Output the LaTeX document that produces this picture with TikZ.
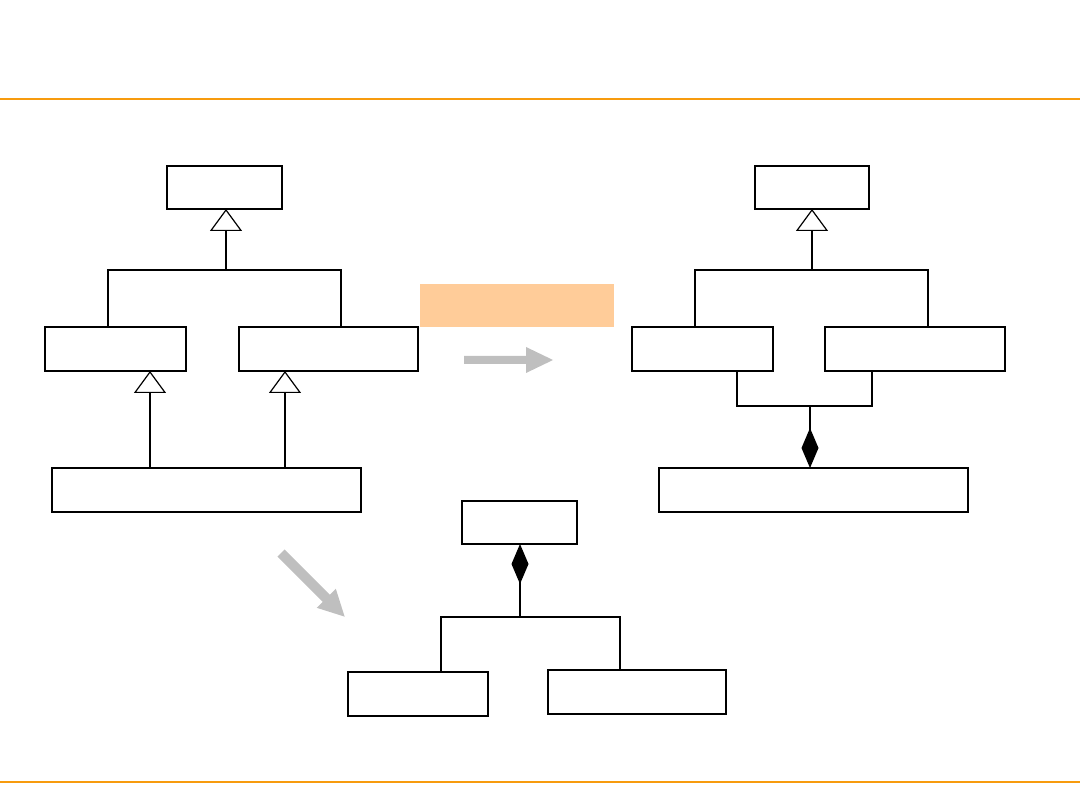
\documentclass[tikz,border=0pt]{standalone}
\usetikzlibrary{arrows.meta}
\definecolor{orng}{RGB}{247,155,14}
\definecolor{peach}{RGB}{255,204,153}
\definecolor{arrowgray}{RGB}{191,191,191}
\begin{document}
\begin{tikzpicture}[x=1pt,y=-1pt,
  box/.style={draw, line width=1.7pt, inner sep=0pt, outer sep=0pt, anchor=north west},
  conn/.style={line width=1.7pt},
  thinconn/.style={line width=1.2pt},
  gen/.style={line width=2pt, -{Triangle[open, length=22pt, width=32pt, line width=1.2pt]}},
  comp/.style={line width=1.2pt, -{Diamond[length=40pt, width=17pt]}},
  bigarrow/.style={fill=arrowgray}]
\useasboundingbox (0,0) rectangle (1080,810);
% orange rules
\draw[orng, line width=2pt] (0,99) -- (1080,99);
\draw[orng, line width=2pt] (0,782) -- (1080,782);
% peach banner
\fill[peach] (420,284) rectangle (614,327);

% ---------- left diagram ----------
\node[box, minimum width=115pt, minimum height=43pt] (A) at (167,166) {};
\node[box, minimum width=141pt, minimum height=44pt] (B) at (45,327) {};
\node[box, minimum width=179pt, minimum height=44pt] (C) at (239,327) {};
\node[box, minimum width=309pt, minimum height=44pt] (D) at (52,468) {};
\coordinate (h1) at (108,270);
\coordinate (h2) at (341,270);
\coordinate (a0) at (226,270);
\coordinate (d1) at (150,0);
\coordinate (d2) at (285,0);
\draw[gen] (a0) -- (a0 |- A.south);
\draw[conn] (h1 |- B.north) -- (h1) -- (h2) -- (h2 |- C.north);
\draw[gen] (d1 |- D.north) -- (d1 |- B.south);
\draw[gen] (d2 |- D.north) -- (d2 |- C.south);

% ---------- right diagram ----------
\node[box, minimum width=114pt, minimum height=43pt] (E) at (755,166) {};
\node[box, minimum width=141pt, minimum height=44pt] (F) at (632,327) {};
\node[box, minimum width=180pt, minimum height=44pt] (G) at (825,327) {};
\node[box, minimum width=309pt, minimum height=44pt] (K) at (659,468) {};
\coordinate (r1) at (695,270);
\coordinate (r2) at (928,270);
\coordinate (e0) at (812,270);
\coordinate (s1) at (737,406);
\coordinate (s2) at (872,406);
\coordinate (s0) at (810,406);
\draw[gen] (e0) -- (e0 |- E.south);
\draw[conn] (r1 |- F.north) -- (r1) -- (r2) -- (r2 |- G.north);
\draw[thinconn] (s1 |- F.south) -- (s1) -- (s2) -- (s2 |- G.south);
\draw[comp] (s0) -- (s0 |- K.north);

% ---------- bottom diagram ----------
\node[box, minimum width=115pt, minimum height=43pt] (H) at (462,501) {};
\node[box, minimum width=140pt, minimum height=44pt] (I) at (348,672) {};
\node[box, minimum width=178pt, minimum height=44pt] (J) at (548,670) {};
\coordinate (t0) at (520,617);
\coordinate (t1) at (441,617);
\coordinate (t2) at (620,617);
\draw[comp] (t0) -- (t0 |- H.south);
\draw[thinconn] (t1 |- I.north) -- (t1) -- (t2) -- (t2 |- J.north);

% ---------- gray arrows ----------
\fill[bigarrow] (464,356) -- (526,356) -- (526,347) -- (553,360) -- (526,373) -- (526,364) -- (464,364) -- cycle;
\begin{scope}[shift={(281,553)}, rotate=-45]
\fill[bigarrow] (0,-5) -- (64,-5) -- (64,-13.5) -- (90,0) -- (64,13.5) -- (64,5) -- (0,5) -- cycle;
\end{scope}
\end{tikzpicture}
\end{document}
